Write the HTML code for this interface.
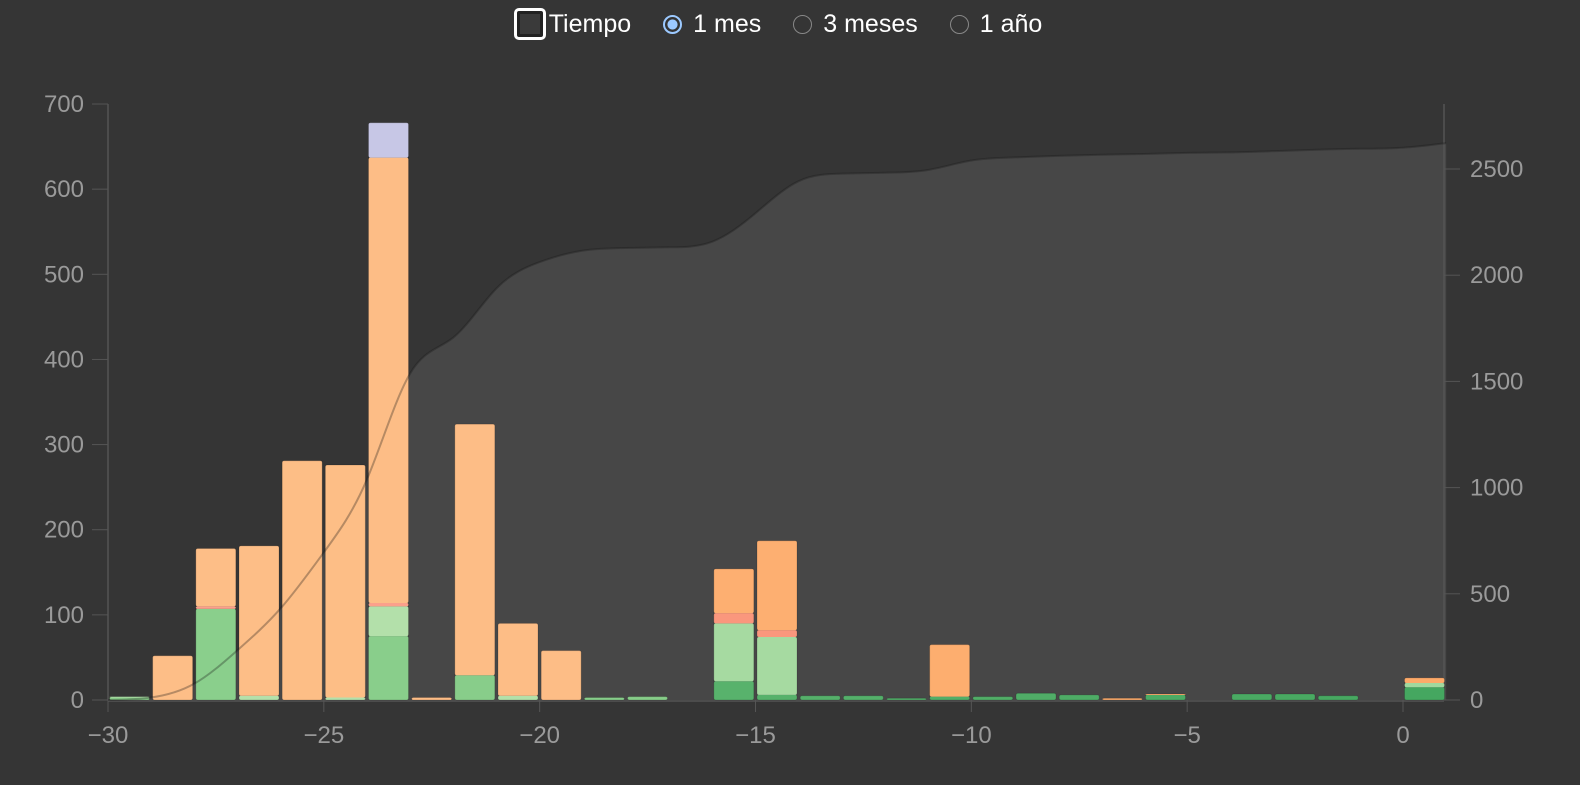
<!DOCTYPE html>
<html><head><meta charset="utf-8"><style>
body{margin:0;background:#353535;width:1580px;height:785px;overflow:hidden;font-family:"Liberation Sans",sans-serif}
#ctrl{position:absolute;top:8px;left:-12px;width:1580px;display:flex;justify-content:center;align-items:center;color:#fff;font-size:25px;gap:0}
.chk{width:32px;height:32px;border:3px solid #fff;border-radius:5px;box-sizing:border-box;background:#3a3a3a;box-shadow:inset 0 0 0 3px #222;margin-right:3px}
.rad{width:19px;height:19px;border-radius:50%;border:1.5px solid #888;box-sizing:border-box;margin:0 11px 0 32px}
.rad.on{border:2px solid #9cc9ff;background:radial-gradient(#9cc9ff 45%,#333 50%)}
</style></head><body>
<div id="ctrl">
<div class="chk"></div><span>Tiempo</span>
<div class="rad on"></div><span>1 mes</span>
<div class="rad"></div><span>3 meses</span>
<div class="rad"></div><span>1 año</span>
</div>
<svg id="chart" width="1580" height="785" style="position:absolute;left:0;top:0"></svg>
<script>
const days=[-30,-29,-28,-27,-26,-25,-24,-23,-22,-21,-20,-19,-18,-17,-16,-15,-14,-13,-12,-11,-10,-9,-8,-7,-6,-5,-4,-3,-2,-1,0];
const mature=[3,0,107,0,0,0,75,0,29,0,0,3,4,0,22,6,5,5,2,4,4,8,6,0,6,0,7,7,5,0,15];
const young=[1,0,0,5,0,3,35,0,0,5,0,0,0,0,68,68,0,0,0,0,0,0,0,0,0,0,0,0,0,0,5];
const relearn=[0,0,3,0,0,0,4,0,0,0,0,0,0,0,12,8,0,0,0,0,0,0,0,0,0,0,0,0,0,0,0];
const learn=[0,52,68,176,281,273,523,3,295,85,58,0,0,0,52,105,0,0,0,61,0,0,0,2,1,0,0,0,0,0,6];
const filtered=[0,0,0,0,0,0,41,0,0,0,0,0,0,0,0,0,0,0,0,0,0,0,0,0,0,0,0,0,0,0,0];
const leftTicks=[0,100,200,300,400,500,600,700];
const rightTicks=[0,500,1000,1500,2000,2500];
const xTicks=[-30,-25,-20,-15,-10,-5,0];
const NS="http://www.w3.org/2000/svg",svg=document.getElementById('chart');
const X=v=>108+(v+30)*43.167, Y=v=>700-v*0.8514, YR=v=>700-v*0.2124;
function mk(t,a,p){const e=document.createElementNS(NS,t);for(const k in a)e.setAttribute(k,a[k]);(p||svg).appendChild(e);return e;}
const pts=[[-30,0]];let s=0;
days.forEach((d,i)=>{s+=mature[i]+young[i]+relearn[i]+learn[i]+filtered[i];pts.push([d+1,s]);});
function basis(P){const Q=P.map(p=>[X(p[0]),YR(p[1])]);let d='',x0,y0,x1,y1,st=0;
const pt=(x,y)=>{d+=`C${(2*x0+x1)/3},${(2*y0+y1)/3} ${(x0+2*x1)/3},${(y0+2*y1)/3} ${(x0+4*x1+x)/6},${(y0+4*y1+y)/6}`;};
Q.forEach(([x,y])=>{if(st==0){d+=`M${x},${y}`;st=1;}else if(st==1){st=2;}else if(st==2){st=3;d+=`L${(5*x0+x1)/6},${(5*y0+y1)/6}`;pt(x,y);}else pt(x,y);x0=x1;y0=y1;x1=x;y1=y;});
pt(x1,y1);d+=`L${x1},${y1}`;return d;}
const line=basis(pts);
const area=mk('path',{d:line+`L${X(1)},700L${X(-30)},700Z`,fill:'#474747'});

const g=mk('g',{fill:'#9a9a9a','font-size':'24','font-family':'Liberation Sans, sans-serif'});
mk('line',{x1:108,y1:104,x2:108,y2:700,stroke:'#555','stroke-width':1.5});
mk('line',{x1:1444,y1:104,x2:1444,y2:700,stroke:'#555','stroke-width':1.5});
mk('line',{x1:108,y1:701,x2:1444,y2:701,stroke:'#555','stroke-width':1.5});
leftTicks.forEach(v=>{mk('line',{x1:92,x2:108,y1:Y(v),y2:Y(v),stroke:'#555'});const t=mk('text',{x:84,y:Y(v)+8,'text-anchor':'end'},g);t.textContent=v;});
rightTicks.forEach(v=>{mk('line',{x1:1444,x2:1460,y1:YR(v),y2:YR(v),stroke:'#555'});const t=mk('text',{x:1470,y:YR(v)+8},g);t.textContent=v;});
xTicks.forEach(v=>{mk('line',{x1:X(v),x2:X(v),y1:700,y2:712,stroke:'#555'});const t=mk('text',{x:X(v),y:743,'text-anchor':'middle'},g);t.textContent=v==0?'0':'\u2212'+(-v);});
const series=[[mature,[139,207,140],[69,167,96]],[young,[180,224,170],[161,216,158]],[relearn,[251,160,140],[250,148,120]],[learn,[253,190,135],[253,170,105]],[filtered,[200,200,230],[180,180,220]]];
const bg=mk('g',{});
days.forEach((d,i)=>{let base=0;const f=Math.min(1,Math.max(0,(d+30)/30));
series.forEach(([arr,c0,c1])=>{const v=arr[i];if(!v)return;
const c=c0.map((q,k)=>Math.round(q+(c1[k]-q)*(d>=-16?0.5+0.5*f:0.15*f)));
const r=mk('rect',{x:X(d)+1.5,width:40,y:Y(base+v),height:Math.max(1,v*0.8514),fill:`rgb(${c})`,rx:2},bg);
base+=v;});
if(base){const o=mk('rect',{x:X(d)+1.5,width:40,y:Y(base),height:base*0.8514,fill:'none',stroke:'rgba(0,0,0,0.15)',rx:2},bg);}
});
const ln=mk('path',{d:line,fill:'none',stroke:'rgba(20,20,20,0.3)','stroke-width':2});

</script>
</body></html>
